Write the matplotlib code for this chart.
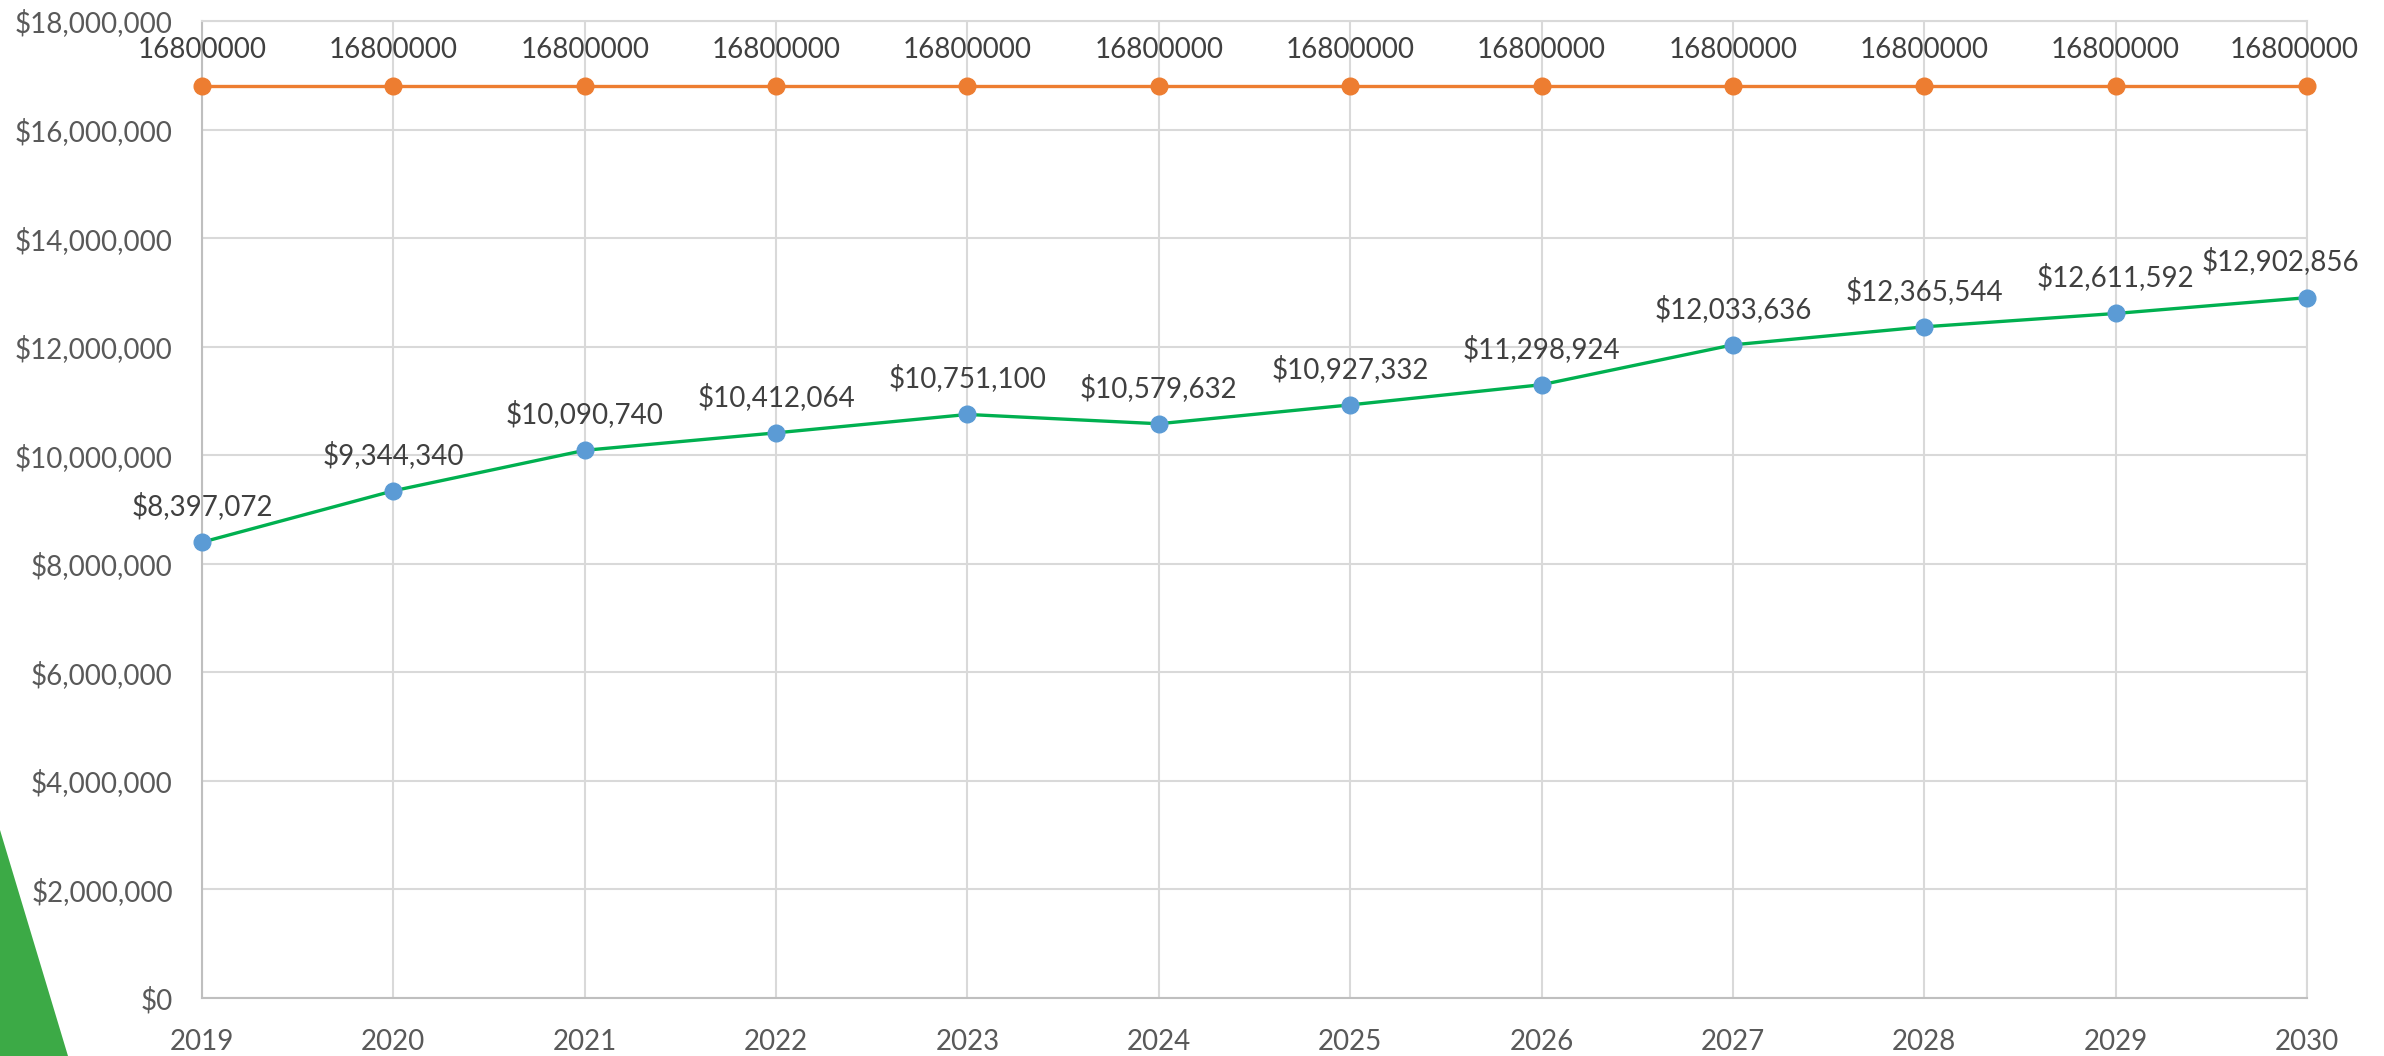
import matplotlib
matplotlib.use("Agg")
import matplotlib.pyplot as plt
from matplotlib.patches import Polygon
from matplotlib.ticker import FuncFormatter, MultipleLocator

years = [2019, 2020, 2021, 2022, 2023, 2024, 2025, 2026, 2027, 2028, 2029, 2030]
projected = [8397072, 9344340, 10090740, 10412064, 10751100, 10579632,
             10927332, 11298924, 12033636, 12365544, 12611592, 12902856]
target = [16800000] * 12

plt.rcParams['font.family'] = ['Lato', 'DejaVu Sans']

W, H = 2384, 1056
fig = plt.figure(figsize=(W / 100, H / 100), dpi=100)
ax = fig.add_axes([202 / W, 1 - 998 / H, (2307 - 202) / W, (998 - 21) / H])

ax.plot(years, target, color='#ED7D31', lw=2.4, marker='o', ms=12,
        markerfacecolor='#ED7D31', markeredgecolor='#ED7D31', zorder=3, clip_on=False)
ax.plot(years, projected, color='#00B050', lw=2.4, marker='o', ms=12,
        markerfacecolor='#5B9BD5', markeredgecolor='#5B9BD5', zorder=3, clip_on=False)

n = len(years)
for i, (x, y) in enumerate(zip(years, target)):
    dx = -9 if i == n - 1 else 0
    ax.annotate(f"{y}", (x, y), xytext=(dx, 26), textcoords='offset points',
                ha='center', va='center', fontsize=20, color='#404040')
for i, (x, y) in enumerate(zip(years, projected)):
    dx = -19 if i == n - 1 else 0
    ax.annotate(f"${y:,.0f}", (x, y), xytext=(dx, 26), textcoords='offset points',
                ha='center', va='center', fontsize=20, color='#404040')

ax.set_xlim(2019, 2030)
ax.set_ylim(0, 18000000)
ax.set_xticks(years)
ax.set_xticklabels([str(y) for y in years])
ax.yaxis.set_major_locator(MultipleLocator(2000000))
ax.yaxis.set_major_formatter(FuncFormatter(lambda v, p: f"${v:,.0f}"))
ax.tick_params(axis='both', length=0, labelsize=20, labelcolor='#595959')
ax.tick_params(axis='x', pad=22)
ax.tick_params(axis='y', pad=21)

ax.grid(True, color='#D9D9D9', lw=1.5)
ax.set_axisbelow(True)
for s in ['top', 'right']:
    ax.spines[s].set_color('#D9D9D9')
    ax.spines[s].set_linewidth(1.5)
for s in ['left', 'bottom']:
    ax.spines[s].set_color('#BFBFBF')
    ax.spines[s].set_linewidth(1.5)

# decorative green wedge in the lower-left corner
fig.patches.append(Polygon([[0, 1 - 830 / H], [0, 0], [68 / W, 0]],
                           closed=True, transform=fig.transFigure,
                           facecolor='#3CAA46', edgecolor='none', zorder=0))

fig.savefig('out.png', dpi=100)
